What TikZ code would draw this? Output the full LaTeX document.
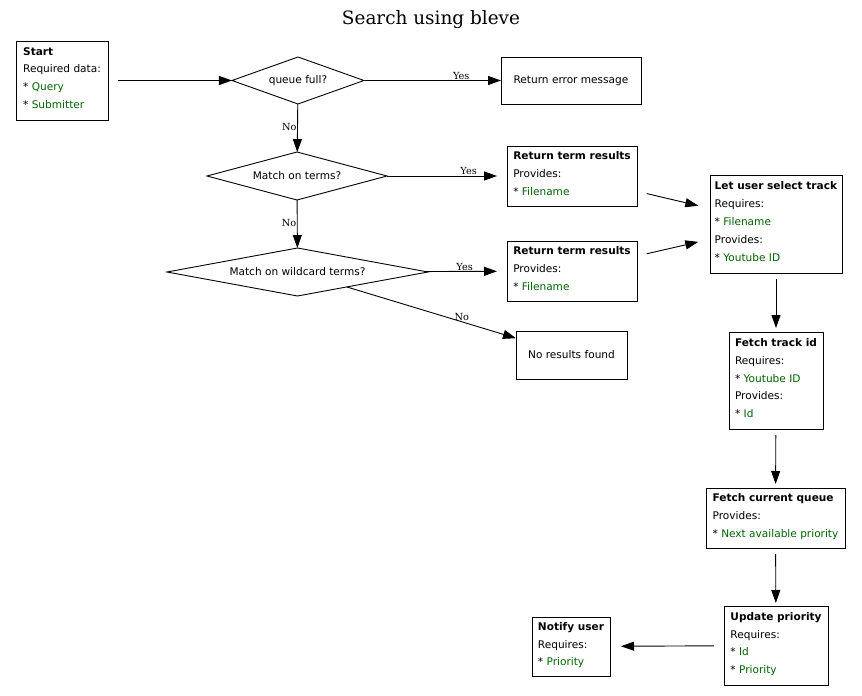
\documentclass[tikz,border=0pt]{standalone}
\usepackage{fontspec}
\setmainfont{DejaVu Sans}
\newfontfamily\serifttl{DejaVu Serif}
\usetikzlibrary{arrows.meta,shapes.geometric}
\definecolor{dg}{HTML}{006400}
\newcommand{\gr}[1]{\textcolor{dg}{#1}}
\begin{document}
\begin{tikzpicture}[x=1bp,y=-1bp,
  every node/.style={inner sep=0pt, outer sep=0pt},
  box/.style={draw, line width=0.9bp, rectangle, align=left,
    font=\fontsize{10.6}{18}\selectfont},
  mbox/.style={box, text depth=5bp},
  dec/.style={draw, line width=0.9bp, diamond, font=\fontsize{10.6}{12}\selectfont},
  edge/.style={line width=0.9bp, -{Triangle[length=13bp,width=9bp]}},
  lbl/.style={font=\serifttl\fontsize{9.8}{10}\selectfont}
]
\useasboundingbox (0,0) rectangle (862,696);
\node[font=\serifttl\fontsize{18.5}{20}\selectfont] (title) at (431,20) {Search using bleve};

\node[mbox, minimum width=92bp, minimum height=79bp] (start) at (62,80.5)
  {\textbf{Start}\\Required data:\\* \gr{Query}\\* \gr{Submitter}};
\node[dec, aspect=2.8, minimum width=132bp, minimum height=47bp] (q1) at (298,80.5) {queue full?};
\node[box, minimum width=140bp, minimum height=47bp] (err) at (571,80.5) {Return error message};
\node[dec, aspect=3.75, minimum width=180bp, minimum height=48bp] (q2) at (297,176) {Match on terms?};
\node[mbox, minimum width=130bp, minimum height=60bp] (r1) at (572,176)
  {\textbf{Return term results}\\Provides:\\* \gr{Filename}};
\node[dec, aspect=5.44, minimum width=261bp, minimum height=48bp] (q3) at (297.5,272) {Match on wildcard terms?};
\node[mbox, minimum width=130bp, minimum height=60bp] (r2) at (572,271)
  {\textbf{Return term results}\\Provides:\\* \gr{Filename}};
\node[box, minimum width=111bp, minimum height=48bp] (nores) at (571.5,355) {No results found};
\node[mbox, minimum width=132bp, minimum height=98bp] (sel) at (776,224)
  {\textbf{Let user select track}\\Requires:\\* \gr{Filename}\\Provides:\\* \gr{Youtube ID}};
\node[mbox, minimum width=94bp, minimum height=97bp] (fetch) at (776,380.5)
  {\textbf{Fetch track id}\\Requires:\\* \gr{Youtube ID}\\Provides:\\* \gr{Id}};
\node[mbox, minimum width=139bp, minimum height=60bp] (queue) at (775.5,518)
  {\textbf{Fetch current queue}\\Provides:\\* \gr{Next available priority}};
\node[mbox, minimum width=104bp, minimum height=79bp] (upd) at (776,645.5)
  {\textbf{Update priority}\\Requires:\\* \gr{Id}\\* \gr{Priority}};
\node[mbox, minimum width=78bp, minimum height=59bp] (notify) at (571,646.5)
  {\textbf{Notify user}\\Requires:\\* \gr{Priority}};

\draw[edge, shorten <=10bp] (start) -- (q1);
\draw[edge] (q1) -- node[lbl, pos=0.71, above=1bp] (l1) {Yes} (err);
\draw[edge] (q1) -- node[lbl, pos=0.48, left=1bp] (l2) {No} (q2);
\draw[edge, shorten >=10bp] (q2) -- node[lbl, pos=0.68, above=1bp] (l3) {Yes} (r1);
\draw[edge] (q2) -- node[lbl, pos=0.48, left=1bp] (l4) {No} (q3);
\draw[edge, shorten >=10bp] (q3) -- node[lbl, pos=0.48, above=1bp] (l5) {Yes} (r2);
\draw[edge] (q3) -- node[lbl, pos=0.68, above=1bp] (l6) {No} (nores);
\draw[edge, shorten <=10bp, shorten >=12bp] (r1) -- (sel);
\draw[edge, shorten <=10bp, shorten >=12bp] (r2) -- (sel);
\draw[edge, shorten <=6bp, shorten >=4bp] (sel) -- (fetch);
\draw[edge, shorten <=6bp, shorten >=4bp] (fetch) -- (queue);
\draw[edge, shorten <=6bp, shorten >=3bp] (queue) -- (upd);
\draw[edge, shorten <=10bp, shorten >=11bp] (upd) -- (notify);
\end{tikzpicture}
\end{document}
